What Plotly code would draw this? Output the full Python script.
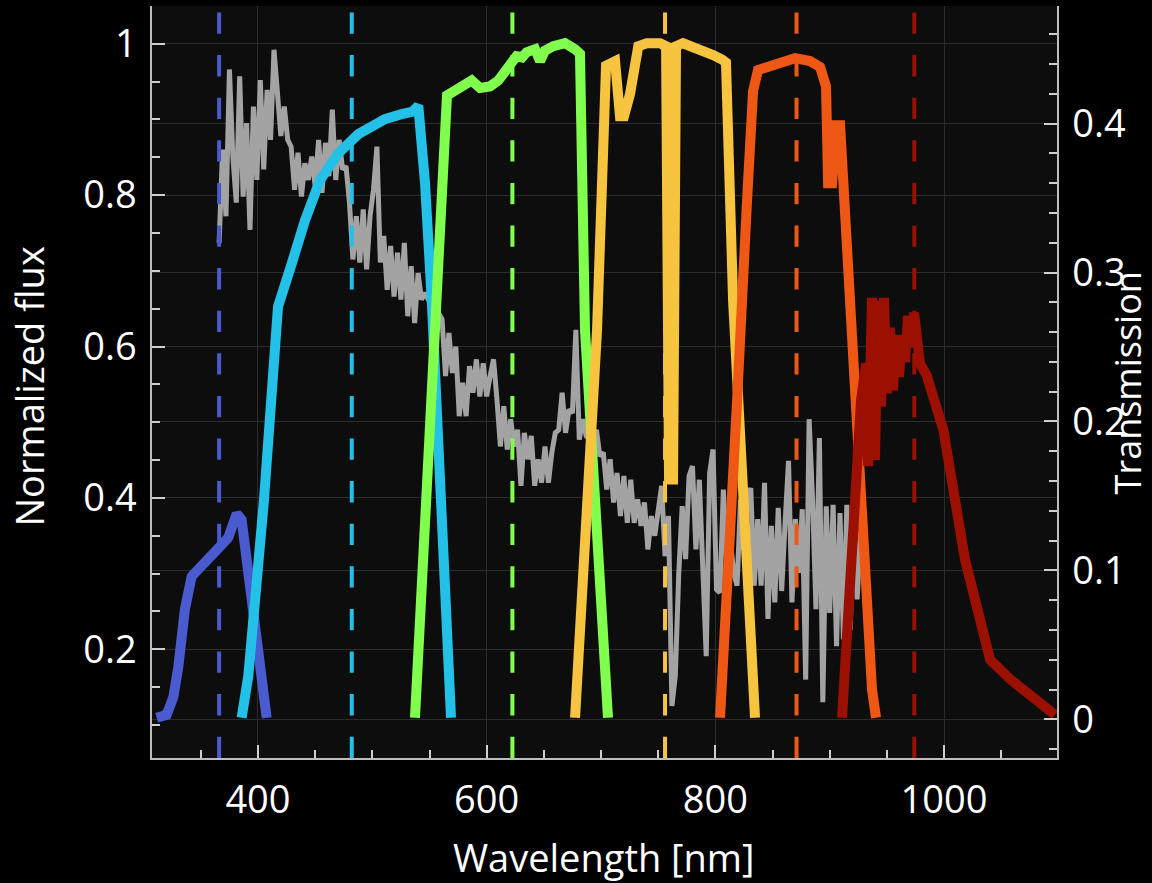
import plotly.graph_objects as go

# ---------------- data ----------------
# Observed spectrum (normalized flux), sampled every SPEC_STEP nm from SPEC_START nm
SPEC_START = 366
SPEC_STEP = 3
SPEC_FLUX = [
    0.737, 0.860, 0.772, 0.966, 0.851, 0.790, 0.957, 0.798, 0.895, 0.754,
    0.917, 0.820, 0.952, 0.834, 0.939, 0.873, 0.992, 0.930, 0.878, 0.917,
    0.873, 0.864, 0.807, 0.856, 0.798, 0.842, 0.820, 0.851, 0.812, 0.873,
    0.803, 0.869, 0.825, 0.913, 0.820, 0.873, 0.834, 0.838, 0.790, 0.715,
    0.772, 0.711, 0.781, 0.702, 0.772, 0.807, 0.864, 0.711, 0.746,
    0.675, 0.733, 0.666, 0.724, 0.662, 0.737, 0.640, 0.706, 0.631, 0.697,
    0.662, 0.671, 0.662, 0.653, 0.662, 0.644, 0.636, 0.561, 0.618, 0.565,
    0.600, 0.508, 0.552, 0.508, 0.574, 0.539, 0.583, 0.534, 0.578, 0.534,
    0.561, 0.583, 0.530, 0.468, 0.521, 0.464, 0.504, 0.468, 0.490, 0.416,
    0.486, 0.451, 0.482, 0.416, 0.451, 0.420, 0.468, 0.420, 0.460, 0.486,
    0.490, 0.539, 0.486, 0.517,
    0.512, 0.622, 0.477, 0.504, 0.482, 0.477, 0.464, 0.490, 0.455, 0.460,
    0.411, 0.451, 0.394, 0.433, 0.376, 0.429, 0.367, 0.424, 0.367, 0.398,
    0.363, 0.394, 0.332, 0.376, 0.350, 0.385, 0.416, 0.323, 0.376, 0.125,
    0.165, 0.301, 0.389, 0.319, 0.429, 0.442, 0.332, 0.424, 0.306, 0.191,
    0.433, 0.464, 0.279,
    0.275, 0.411, 0.310, 0.345, 0.301, 0.284, 0.398, 0.332, 0.398, 0.413,
    0.284, 0.372, 0.284, 0.420, 0.240, 0.363, 0.262, 0.387, 0.277, 0.367,
    0.449, 0.262, 0.372, 0.301, 0.385, 0.160, 0.504, 0.398, 0.253, 0.479,
    0.130, 0.389, 0.248, 0.391, 0.204, 0.380, 0.213, 0.391, 0.226, 0.380,
    0.266, 0.354,
]
SPEC_WL = [SPEC_START + SPEC_STEP * i for i in range(len(SPEC_FLUX))]

# Filter transmission curves
U_WL = [311.4, 320.1, 326.0, 330.3, 336.1, 342.0, 366.8, 374.0, 381.4, 385.7, 390.1, 395.9, 401.7, 407.6]
U_T = [0.001, 0.003, 0.015, 0.035, 0.074, 0.096, 0.116, 0.122, 0.138, 0.134, 0.107, 0.069, 0.036, 0.001]

G_WL = [385.7, 391.5, 405.2, 417.5, 429.5, 441.1, 454.2, 470.2, 487.7, 498.0, 511.0, 524.0, 535.0, 540.2, 546.1, 552.0, 557.7, 568.8]
G_T = [0.001, 0.029, 0.147, 0.277, 0.306, 0.335, 0.362, 0.380, 0.393, 0.398, 0.403, 0.406, 0.408, 0.412, 0.360, 0.281, 0.192, 0.001]

R_WL = [537.3, 565.3, 586.9, 594.2, 602.9, 610.2, 627.7, 629.2, 635.0, 642.3, 646.7, 651.0, 658.3, 668.5, 677.3, 681.6, 686.0, 695.6, 706.1]
R_T = [0.001, 0.419, 0.429, 0.424, 0.425, 0.429, 0.447, 0.443, 0.448, 0.450, 0.442, 0.449, 0.452, 0.454, 0.450, 0.447, 0.261, 0.134, 0.001]

I_WL = [677.3, 696.5, 704.4, 712.3, 716.6, 720.1, 725.4, 732.6, 740.0, 751.6, 756.9, 759.5, 763.0, 765.6, 771.7, 784.0, 792.7, 798.0, 805.8, 809.3, 815.5, 826.0, 834.7]
I_T = [0.001, 0.261, 0.439, 0.442, 0.405, 0.405, 0.420, 0.452, 0.454, 0.454, 0.452, 0.161, 0.161, 0.452, 0.454, 0.451, 0.448, 0.446, 0.443, 0.441, 0.281, 0.121, 0.001]

Z_WL = [804.1, 810.2, 819.0, 827.7, 833.0, 837.3, 847.8, 860.9, 869.7, 882.8, 891.6, 896.8, 898.6, 902.1, 905.6, 909.1, 911.7, 917.8, 924.8, 931.8, 937.0, 940.5]
Z_T = [0.001, 0.080, 0.214, 0.348, 0.422, 0.436, 0.439, 0.441, 0.444, 0.442, 0.438, 0.425, 0.360, 0.360, 0.399, 0.399, 0.362, 0.281, 0.181, 0.080, 0.020, 0.001]

Y_WL = [910.8, 927.4, 931.8, 933.6, 937.0, 939.6, 942.3, 944.9, 947.5, 950.1, 952.8, 955.4, 958.0, 960.6, 963.3, 965.9, 968.5, 971.1, 973.8, 979.0, 984.8, 999.5, 1018.4, 1040.3, 1057.7, 1097.1]
Y_T = [0.001, 0.214, 0.239, 0.170, 0.283, 0.174, 0.281, 0.210, 0.283, 0.219, 0.263, 0.221, 0.258, 0.230, 0.258, 0.240, 0.271, 0.250, 0.273, 0.239, 0.231, 0.194, 0.107, 0.040, 0.027, 0.003]

BANDS = ["u", "g", "r", "i", "z", "y"]
BAND_WL = [U_WL, G_WL, R_WL, I_WL, Z_WL, Y_WL]
BAND_T = [U_T, G_T, R_T, I_T, Z_T, Y_T]
EFF_WL = [366.0, 482.0, 622.5, 756.0, 871.0, 974.0]  # effective wavelengths (dashed)

# ---------------- style ----------------
BAND_COLORS = ["#4a5bd0", "#23c0e8", "#80ff4d", "#f7c440", "#ee5814", "#9b1000"]
SPEC_COLOR = "#a3a3a3"
FONT = "Open Sans, Noto Sans, sans-serif"
TXT = "#ffffff"
GRID = "#2c2c2c"
LINE = "#bdbdbd"
TICK = "#cfcfcf"

fig = go.Figure()
fig.add_trace(go.Scatter(x=SPEC_WL, y=SPEC_FLUX, mode="lines",
                         line=dict(color=SPEC_COLOR, width=5), yaxis="y",
                         hoverinfo="skip", name="spectrum"))
for name, wl, t, c in zip(BANDS, BAND_WL, BAND_T, BAND_COLORS):
    fig.add_trace(go.Scatter(x=wl, y=t, mode="lines", yaxis="y2",
                             line=dict(color=c, width=10), name=name))

for wl, c in zip(EFF_WL, BAND_COLORS):
    fig.add_shape(type="line", xref="x", yref="paper", x0=wl, x1=wl, y0=0, y1=1,
                  line=dict(color=c, width=4, dash="21.3px,21.3px"), layer="above")

axis_common = dict(
    showline=True, linecolor=LINE, linewidth=1.5,
    ticks="inside", ticklen=13, tickwidth=1.5, tickcolor=TICK,
    showgrid=True, gridcolor=GRID, gridwidth=1, zeroline=False,
    tickfont=dict(family=FONT, size=38, color=TXT),
)

fig.update_layout(
    width=1152, height=883,
    margin=dict(l=152, r=95, t=6, b=125, pad=0),
    paper_bgcolor="#000000", plot_bgcolor="#0d0d0d",
    showlegend=False,
    font=dict(family=FONT, color=TXT),
    xaxis=dict(range=[307.3, 1098.8], tick0=0, dtick=200, ticklabelstandoff=8,
               minor=dict(dtick=50, ticks="inside", ticklen=8, tickwidth=1.5,
                          tickcolor=TICK, showgrid=False),
               **axis_common),
    yaxis=dict(range=[0.0564, 1.0498], tick0=0, dtick=0.2, ticklabelstandoff=6,
               minor=dict(dtick=0.05, ticks="inside", ticklen=8, tickwidth=1.5,
                          tickcolor=TICK, showgrid=False),
               **axis_common),
    yaxis2=dict(range=[-0.026, 0.479], tick0=0, dtick=0.1, overlaying="y", side="right",
                ticklabelstandoff=6,
                minor=dict(dtick=0.02, ticks="inside", ticklen=8, tickwidth=1.5,
                           tickcolor=TICK, showgrid=False),
                **axis_common),
    annotations=[
        dict(text="Wavelength [nm]", xref="paper", yref="paper", x=0.4994, y=-0.132,
             xanchor="center", yanchor="middle", showarrow=False,
             font=dict(family=FONT, size=38, color=TXT)),
        dict(text="Normalized flux", xref="paper", yref="paper", x=-0.1359, y=0.494,
             xanchor="center", yanchor="middle", showarrow=False, textangle=-90,
             font=dict(family=FONT, size=38, color=TXT)),
        dict(text="Transmission", xref="paper", yref="paper", x=1.0773, y=0.4994,
             xanchor="center", yanchor="middle", showarrow=False, textangle=-90,
             font=dict(family=FONT, size=36, color=TXT)),
    ],
)

fig.write_html("out.html", include_plotlyjs=True, config={"displayModeBar": False},
               post_script="document.body.style.margin='0px';document.body.style.overflow='hidden';")
